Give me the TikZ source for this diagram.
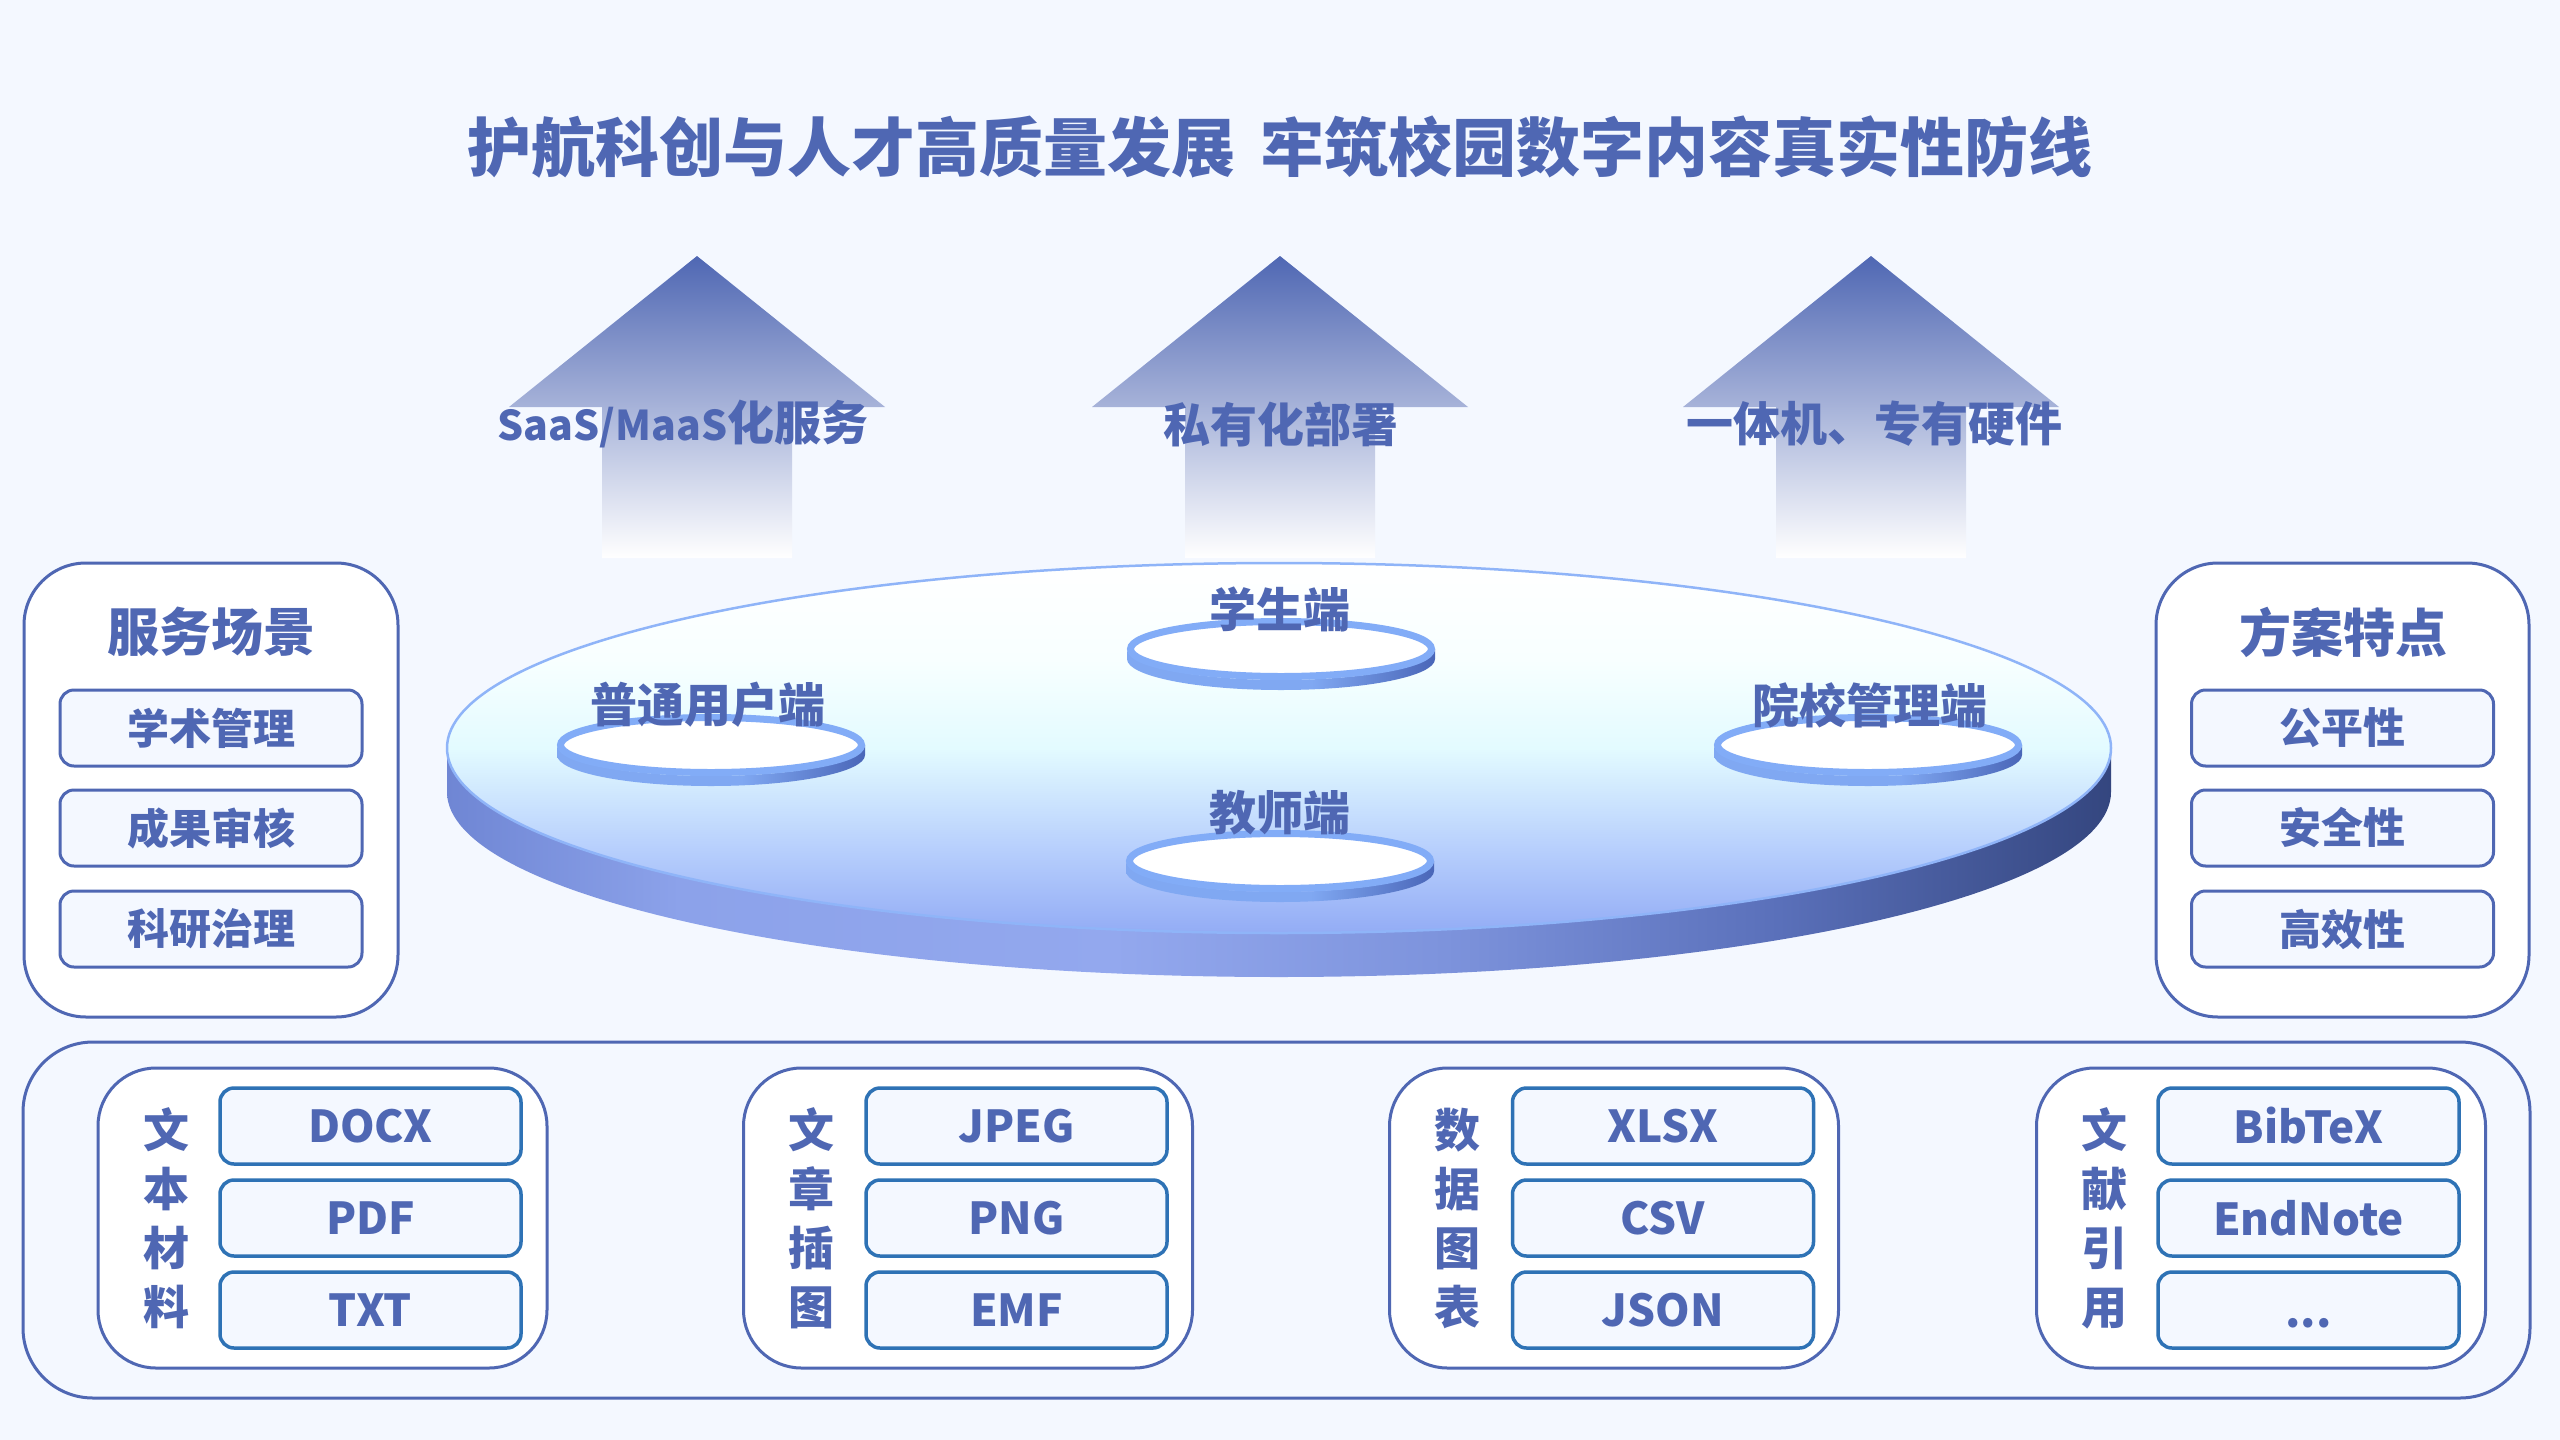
\documentclass[tikz,border=0pt]{standalone}
\usepackage{fontspec}
\setmainfont{Noto Sans CJK SC}
\definecolor{bg}{HTML}{F4F8FF}
\definecolor{mainblue}{HTML}{4F67B3}
\definecolor{boxblue}{HTML}{2E72B5}
\definecolor{arrowmid}{HTML}{C6CDE8}
\definecolor{rimblue}{HTML}{82ACF7}
\definecolor{dt1}{HTML}{93ACF5}
\definecolor{dt2}{HTML}{B9D1FD}
\definecolor{dt3}{HTML}{E3FBFF}
\definecolor{dt4}{HTML}{F8FFFF}
\definecolor{ds1}{HTML}{6F86D4}
\definecolor{ds2}{HTML}{8CA2EA}
\definecolor{ds3}{HTML}{93A8EE}
\definecolor{ds4}{HTML}{7D93DC}
\definecolor{ds5}{HTML}{5A70BA}
\definecolor{ds6}{HTML}{34467F}
\definecolor{ps1}{HTML}{80A8F2}
\definecolor{ps2}{HTML}{4A66B8}
\pgfdeclareverticalshading{disktop}{100bp}{color(0bp)=(dt1); color(25bp)=(dt1); color(37bp)=(dt2); color(50bp)=(dt3); color(62bp)=(dt4); color(75bp)=(white); color(100bp)=(white)}
\pgfdeclarehorizontalshading{diskside}{100bp}{color(0bp)=(ds1); color(25bp)=(ds1); color(32bp)=(ds2); color(45bp)=(ds3); color(55bp)=(ds4); color(65bp)=(ds5); color(75bp)=(ds6); color(100bp)=(ds6)}
\pgfdeclarehorizontalshading{puckside}{100bp}{color(0bp)=(ps1); color(25bp)=(ps1); color(55bp)=(ps1); color(75bp)=(ps2); color(100bp)=(ps2)}
\tikzset{
  panel/.style={draw=mainblue, line width=3pt, fill=white, rounded corners=62pt, inner sep=0pt},
  bigpanel/.style={draw=mainblue, line width=3pt, fill=bg, rounded corners=70pt, inner sep=0pt},
  grp/.style={draw=mainblue, line width=3pt, fill=white, rounded corners=58pt, inner sep=0pt, minimum width=449pt, minimum height=300pt},
  lbox/.style={draw=mainblue, line width=3pt, fill=bg, rounded corners=14pt, minimum width=302pt, minimum height=76pt, text=mainblue, font=\fontsize{42}{46}\selectfont\bfseries, inner sep=0pt},
  fbox/.style={draw=boxblue, line width=3.5pt, fill=bg, rounded corners=14pt, minimum width=301pt, minimum height=76pt, text=mainblue, font=\fontsize{44}{48}\selectfont\bfseries, inner sep=0pt},
  ptitle/.style={text=mainblue, font=\fontsize{52}{56}\selectfont\bfseries, inner sep=0pt},
  vlabel/.style={text=mainblue, font=\fontsize{46}{59}\selectfont\bfseries, align=center, inner sep=0pt},
  arrowlabel/.style={text=mainblue, font=\fontsize{47}{52}\selectfont\bfseries, inner sep=0pt},
  pucklabel/.style={text=mainblue, font=\fontsize{47}{52}\selectfont\bfseries, inner sep=0pt},
  uparrow/.style={top color=mainblue, middle color=arrowmid, bottom color=white, draw=none},
}
\newcommand{\myarrow}[1]{%
  \shade[uparrow] (#1,256) -- (#1+188,407) -- (#1+95,407) -- (#1+95,558) -- (#1-95,558) -- (#1-95,407) -- (#1-188,407) -- cycle;}
\newcommand{\mypuck}[2]{%
  \shade[shading=puckside] (#1-154,#2) arc[start angle=180, end angle=0, x radius=154, y radius=31] -- (#1+154,#2+10) arc[start angle=0, end angle=180, x radius=154, y radius=31] -- cycle;
  \draw[rimblue, line width=7pt, fill=white] (#1,#2) ellipse[x radius=150.5, y radius=27.5];}
\begin{document}
\begin{tikzpicture}[x=1pt,y=-1pt]
\fill[bg] (0,0) rectangle (2560,1440);
\useasboundingbox (0,0) rectangle (2560,1440);

% title
\node[text=mainblue, font=\fontsize{64}{70}\selectfont\bfseries, inner sep=0pt] (title) at (1280,147) {护航科创与人才高质量发展\hspace{0.4em}牢筑校园数字内容真实性防线};

% arrows
\myarrow{697}
\myarrow{1280}
\myarrow{1871}
\node[arrowlabel] (a1) at (683,424) {{\fontsize{41}{46}\selectfont SaaS/MaaS}化服务};
\node[arrowlabel] (a2) at (1281,424) {私有化部署};
\node[arrowlabel] (a3) at (1874,424) {一体机、专有硬件};

% disk
\shade[shading=diskside] (447,748) arc[start angle=180, end angle=0, x radius=832, y radius=185] -- (2111,792) arc[start angle=0, end angle=180, x radius=832, y radius=185] -- cycle;
\shade[shading=disktop] (1279,748) ellipse[x radius=832, y radius=185];
\draw[rimblue!90!white, line width=2.5pt] (1279,748) ellipse[x radius=832, y radius=185];

\mypuck{1281}{649}
\mypuck{711}{745}
\mypuck{1868}{745}
\mypuck{1280}{861}
\node[pucklabel] (p1) at (1280,609) {学生端};
\node[pucklabel] (p2) at (708,705) {普通用户端};
\node[pucklabel] (p3) at (1870,705) {院校管理端};
\node[pucklabel] (p4) at (1280,813) {教师端};

% left panel
\node[panel, minimum width=374pt, minimum height=454pt] (scen) at (211,790) {};
\node[ptitle] (scent) at (211,632) {服务场景};
\node[lbox] (s1) at (211,728) {学术管理};
\node[lbox] (s2) at (211,828) {成果审核};
\node[lbox] (s3) at (211,929) {科研治理};

% right panel
\node[panel, minimum width=373pt, minimum height=454pt] (feat) at (2342.5,790) {};
\node[ptitle] (featt) at (2343,632) {方案特点};
\node[lbox] (f1) at (2342.5,728) {公平性};
\node[lbox] (f2) at (2342.5,828) {安全性};
\node[lbox] (f3) at (2342.5,929) {高效性};

% bottom panel
\node[bigpanel, minimum width=2507pt, minimum height=356pt] (fmt) at (1276.5,1220) {};

\node[grp] (g1) at (322.5,1218) {};
\node[vlabel] (g1l) at (166,1218) {文\\本\\材\\料};
\node[fbox] (g1a) at (370.5,1126) {DOCX};
\node[fbox] (g1b) at (370.5,1218) {PDF};
\node[fbox] (g1c) at (370.5,1310) {TXT};

\node[grp] (g2) at (968,1218) {};
\node[vlabel] (g2l) at (811,1218) {文\\章\\插\\图};
\node[fbox] (g2a) at (1016.5,1126) {JPEG};
\node[fbox] (g2b) at (1016.5,1218) {PNG};
\node[fbox] (g2c) at (1016.5,1310) {EMF};

\node[grp] (g3) at (1614,1218) {};
\node[vlabel] (g3l) at (1457,1218) {数\\据\\图\\表};
\node[fbox] (g3a) at (1663,1126) {XLSX};
\node[fbox] (g3b) at (1663,1218) {CSV};
\node[fbox] (g3c) at (1663,1310) {JSON};

\node[grp] (g4) at (2261,1218) {};
\node[vlabel] (g4l) at (2104,1218) {文\\献\\引\\用};
\node[fbox] (g4a) at (2308.5,1126) {BibTeX};
\node[fbox] (g4b) at (2308.5,1218) {EndNote};
\node[fbox] (g4c) at (2308.5,1310) {\vphantom{EndNote}...};
\end{tikzpicture}
\end{document}
